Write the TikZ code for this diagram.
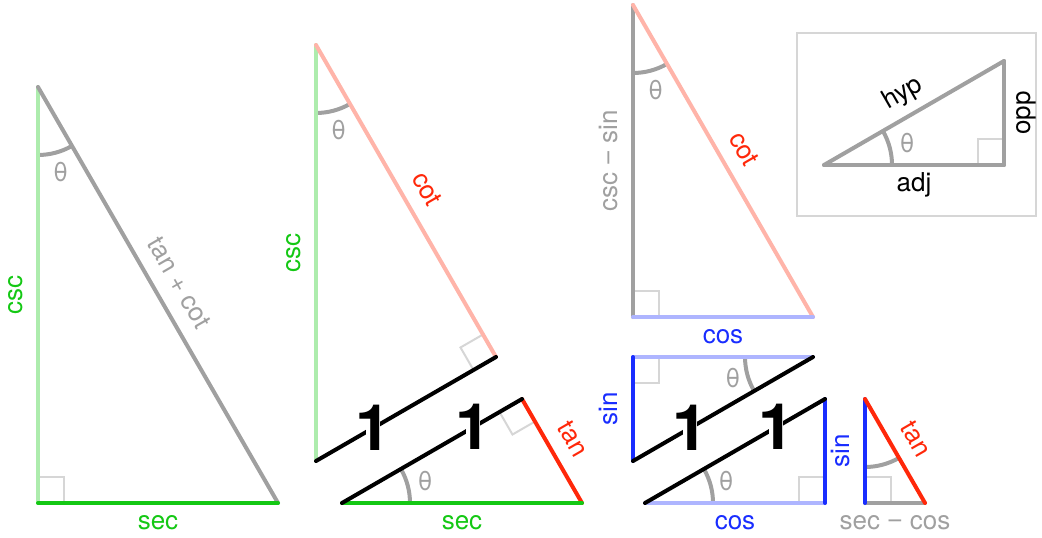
\documentclass[tikz,border=0pt]{standalone}
\usepackage{fontspec}
\setmainfont{TeX Gyre Heros}
\newfontfamily\minusfont{Liberation Sans}
\usepackage{tikz}
\usetikzlibrary{calc}
\definecolor{trgreen}{RGB}{20,200,20}
\definecolor{trred}{RGB}{255,40,10}
\definecolor{trblue}{RGB}{25,45,255}
\definecolor{trgray}{RGB}{160,160,160}
\definecolor{trmark}{RGB}{214,214,214}

\begin{document}
\begin{tikzpicture}[
  x=0.5pt, y=0.5pt,
  font=\fontsize{13}{15}\selectfont,
  side/.style={line width=2pt, line cap=round},
  strong/.style={side, draw=#1},
  faint/.style={side, draw=#1!35},
  unitside/.style={side, draw=black},
  rangle/.style={draw=trmark, line width=1pt},
  angarc/.style={draw=trgray, line width=2pt},
  lbl/.style={inner sep=7pt, text height=1ex, text depth=0pt, text=#1},
  thlbl/.style={text=trgray, inner sep=1pt},
  one/.style={font=\fontsize{32}{32}\selectfont\bfseries, fill=white, inner sep=0.5pt}
]
\newcommand{\onelabel}{\makebox[0.2em]{1}}
\newcommand{\mn}{{\minusfont −}}
\useasboundingbox (0,0) rectangle (1042,537);

% sec, csc, tan + cot
\coordinate (A) at (38,34);
\coordinate (B) at (278,34);
\coordinate (C) at (38,450);
\draw[rangle] (A) rectangle ++(26,26);
\draw[angarc] (C) ++(270:68) arc[start angle=270, end angle=300, radius=68];
\node[thlbl] (thA) at ($(C)+(285:88)$) {θ};
\draw[faint=trgreen] (A) -- (C) node[midway, sloped, above, lbl=trgreen] (cscA) {csc};
\draw[strong=trgray] (C) -- (B) node[midway, sloped, above, lbl=trgray] (hypA) {tan + cot};
\draw[strong=trgreen] (A) -- (B) node[midway, below, lbl=trgreen] (secA) {sec};

% csc + cot over 1, and 1 + tan over sec
\coordinate (P) at (316,76);
\coordinate (Q) at (316,492);
\coordinate (R) at (496,180);
\coordinate (S) at (342,34);
\coordinate (T) at (582,34);
\coordinate (U) at (522,138);
\draw[rangle] (R) ++(210:26) -- ++(120:26) -- ++(30:26);
\draw[rangle] (U) ++(210:26) -- ++(300:26) -- ++(30:26);
\draw[angarc] (Q) ++(270:68) arc[start angle=270, end angle=300, radius=68];
\draw[angarc] (S) ++(0:68) arc[start angle=0, end angle=30, radius=68];
\node[thlbl] (thQ) at ($(Q)+(285:88)$) {θ};
\node[thlbl] (thS) at ($(S)+(15:86)$) {θ};
\draw[faint=trgreen] (P) -- (Q) node[midway, sloped, above, lbl=trgreen] (cscP) {csc};
\draw[faint=trred] (Q) -- (R) node[midway, sloped, above, lbl=trred] (cotQ) {cot};
\draw[strong=trred] (U) -- (T) node[midway, sloped, above, lbl=trred] (tanU) {tan};
\draw[strong=trgreen] (S) -- (T) node[midway, below, lbl=trgreen] (secS) {sec};
\draw[unitside] (P) -- (R) node[pos=0.317, one] (oneP) {\onelabel};
\draw[unitside] (S) -- (U) node[pos=0.728, one] (oneS) {\onelabel};

% csc - sin, cot, cos
\coordinate (D) at (633,220);
\coordinate (E) at (633,532);
\coordinate (F) at (813,220);
\draw[rangle] (D) rectangle ++(26,26);
\draw[angarc] (E) ++(270:68) arc[start angle=270, end angle=300, radius=68];
\node[thlbl] (thE) at ($(E)+(285:88)$) {θ};
\draw[strong=trgray] (D) -- (E) node[midway, sloped, above, lbl=trgray] (cmsD) {csc \mn\ sin};
\draw[faint=trred] (E) -- (F) node[midway, sloped, above, lbl=trred] (cotE) {cot};
\draw[faint=trblue] (D) -- (F) node[midway, below, lbl=trblue] (cosD) {cos};

% sin, cos over 1, twice
\coordinate (G) at (633,180);
\coordinate (H) at (633,76);
\coordinate (I) at (813,180);
\draw[rangle] (G) ++(26,0) -- ++(0,-26) -- ++(-26,0);
\draw[angarc] (I) ++(180:68) arc[start angle=180, end angle=210, radius=68];
\node[thlbl] (thI) at ($(I)+(195:83)$) {θ};
\draw[faint=trblue] (G) -- (I);
\draw[strong=trblue] (H) -- (G) node[midway, sloped, above, lbl=trblue] (sinH) {sin};
\draw[unitside] (H) -- (I) node[pos=0.317, one] (oneH) {\onelabel};

\coordinate (J) at (645,34);
\coordinate (K) at (825,34);
\coordinate (L) at (825,138);
\draw[rangle] (K) ++(-26,0) -- ++(0,26) -- ++(26,0);
\draw[angarc] (J) ++(0:68) arc[start angle=0, end angle=30, radius=68];
\node[thlbl] (thJ) at ($(J)+(15:84)$) {θ};
\draw[faint=trblue] (J) -- (K) node[midway, below, lbl=trblue] (cosJ) {cos};
\draw[strong=trblue] (K) -- (L);
\draw[unitside] (J) -- (L) node[pos=0.728, one] (oneJ) {\onelabel};

% sin, tan, sec - cos
\coordinate (M) at (865,34);
\coordinate (N) at (865,138);
\coordinate (O) at (925,34);
\draw[rangle] (M) rectangle ++(26,26);
\draw[angarc] (N) ++(270:68) arc[start angle=270, end angle=300, radius=68];
\draw[strong=trgray] (M) -- (O) node[midway, below, lbl=trgray] (smcM) {sec \mn\ cos};
\draw[strong=trblue] (M) -- (N) node[midway, sloped, above, lbl=trblue] (sinM) {sin};
\draw[strong=trred] (N) -- (O) node[midway, sloped, above, lbl=trred] (tanN) {tan};

% key
\draw[draw=trmark, line width=1pt] (797,321) rectangle (1036,504);
\coordinate (V) at (824,372);
\coordinate (W) at (1004,372);
\coordinate (X) at (1004,476);
\draw[rangle] (W) ++(-26,0) -- ++(0,26) -- ++(26,0);
\draw[angarc] (V) ++(0:68) arc[start angle=0, end angle=30, radius=68];
\node[thlbl] (thV) at ($(V)+(15:86)$) {θ};
\draw[strong=trgray] (V) -- (X) node[midway, sloped, above, lbl=black] (hypV) {hyp};
\draw[strong=trgray] (V) -- (W) node[midway, below, lbl=black] (adjV) {adj};
\draw[strong=trgray] (W) -- (X) node[midway, sloped, below, lbl=black] (oppW) {opp};
\end{tikzpicture}
\end{document}
